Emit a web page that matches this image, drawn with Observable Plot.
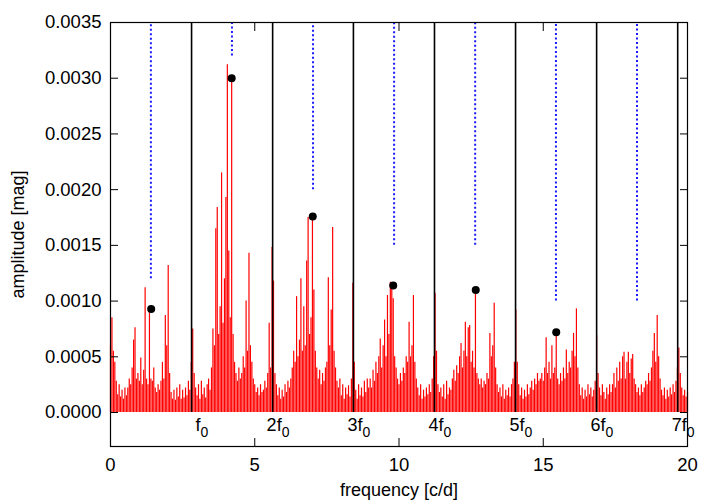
<!DOCTYPE html>
<html>
<head>
<meta charset="utf-8">
<script src="https://cdn.jsdelivr.net/npm/d3@7"></script>
<script src="https://cdn.jsdelivr.net/npm/@observablehq/plot@0.6"></script>
<style>
  html, body { margin: 0; padding: 0; background: #fff; }
  #chart { width: 720px; height: 504px; }
</style>
</head>
<body>
<div id="chart"></div>
<script>
// Amplitude spectrum, units of 1e-5 mag, sampled every 0.05 c/d
const freqStart = 0;
const freqStep = 0.05;
const amp00to05 = [
  60,85,55,45,28,16,25,14,20,12,22,15,22,30,25,40,65,76,30,35,
  28,49,25,38,112,30,25,92,30,28,40,22,18,25,20,28,45,30,87,60,
  132,35,18,12,20,11,22,14,25,12,20,13,22,15,28,20,45,75,35,22,
  15,25,12,28,16,22,13,25,30,20,40,75,60,165,184,70,95,215,80,120,
  193,312,145,85,300,70,45,35,28,40,30,35,50,40,100,55,143,60,45,30
];
const amp05to10 = [
  25,18,22,15,25,18,20,28,22,35,80,40,148,118,35,25,15,22,12,20,
  14,25,18,28,22,30,40,55,45,104,50,65,120,55,95,60,136,175,70,85,
  176,110,55,40,30,38,25,35,28,40,45,121,60,92,166,55,40,28,22,30,
  15,25,12,22,16,24,14,30,116,45,20,12,25,15,22,14,28,18,30,22,
  30,22,38,28,45,35,50,66,40,60,83,50,105,70,117,114,102,50,40,30
];
const amp10to15 = [
  25,35,28,40,35,50,45,81,50,60,105,45,30,22,15,25,12,20,14,22,
  16,25,18,30,50,107,55,25,18,22,14,25,12,28,16,22,20,30,38,28,
  42,35,50,62,40,55,81,50,76,78,45,55,40,110,35,30,25,30,22,28,
  25,35,30,71,50,60,98,40,25,18,22,14,25,12,20,15,22,14,25,30,
  45,92,45,25,15,22,12,20,14,25,16,22,28,20,30,25,35,28,30,35
];
const amp15to20 = [
  28,40,67,35,45,30,60,35,40,72,30,25,35,28,40,30,56,35,45,40,
  55,71,50,93,40,25,15,22,12,20,14,25,16,22,14,20,28,69,35,22,
  15,25,18,12,22,16,25,18,25,35,22,40,28,45,30,50,54,30,45,54,
  35,48,52,30,25,18,22,15,25,18,22,28,25,35,28,40,55,71,45,87,
  50,30,20,15,22,12,20,14,22,16,25,18,28,40,58,35,22,15,20,14,18
];

// Harmonics of f0
const harmonicFreq = [2.81, 5.62, 8.42, 11.23, 14.04, 16.85, 19.66];
const harmonicNum = ["f", "2f", "3f", "4f", "5f", "6f", "7f"];
const harmonicSub = ["0", "0", "0", "0", "0", "0", "0"];
const harmonicLow = 0, harmonicTop = 0.0035;

// Half-integer harmonics (blue dotted markers)
const halfFreq = [1.40, 4.21, 7.02, 9.83, 12.64, 15.44, 18.25];
const halfLow = [0.0012, 0.0032, 0.0020, 0.0015, 0.0015, 0.0010, 0.0010];
const halfTop = 0.0035;

// Detected peaks (black dots)
const peakFreq = [1.41, 4.20, 7.01, 9.80, 12.66, 15.45];
const peakAmp = [0.00093, 0.00300, 0.00176, 0.00114, 0.00110, 0.00072];

const xTicks = [0, 5, 10, 15, 20];
const yTicks = [0, 0.0005, 0.0010, 0.0015, 0.0020, 0.0025, 0.0030, 0.0035];

// ---- build tables ----
const ampAll = [...amp00to05, ...amp05to10, ...amp10to15, ...amp15to20];
const spectrum = ampAll.map((a, i) => ({ f: freqStart + i * freqStep, a: a * 1e-5 }));
const harmonics = harmonicFreq.map((f, i) => ({ f, num: harmonicNum[i], sub: harmonicSub[i], lo: harmonicLow, hi: harmonicTop }));
const halves = halfFreq.map((f, i) => ({ f, lo: halfLow[i], hi: halfTop }));
const peaks = peakFreq.map((f, i) => ({ f, a: peakAmp[i] }));

const yMin = -0.000305, yMax = 0.0035;
const FONT = "'Liberation Sans', Arial, Helvetica, sans-serif";

const chart = Plot.plot({
  width: 720,
  height: 504,
  marginLeft: 110,
  marginRight: 33,
  marginTop: 22,
  marginBottom: 58,
  style: { fontFamily: FONT, fontSize: "18.5px", color: "#000", background: "#fff", overflow: "visible" },
  x: { domain: [0, 20] },
  y: { domain: [yMin, yMax] },
  marks: [
    Plot.ruleX(spectrum, { x: "f", y1: 0, y2: "a", stroke: "#ff0000", strokeWidth: 1.2 }),
    Plot.ruleX(harmonics, { x: "f", y1: "lo", y2: "hi", stroke: "#000", strokeWidth: 1.6 }),
    Plot.ruleX(halves, { x: "f", y1: "lo", y2: "hi", stroke: "#1a1aff", strokeWidth: 2, strokeDasharray: "2,2.5" }),
    Plot.dot(peaks, { x: "f", y: "a", r: 4, fill: "#000", stroke: "none" }),
    Plot.text(harmonics, { x: "f", text: "num", frameAnchor: "bottom", dx: 9, dy: -16, textAnchor: "end", fontSize: 18, fill: "#000" }),
    Plot.text(harmonics, { x: "f", text: "sub", frameAnchor: "bottom", dx: 9, dy: -10, textAnchor: "start", fontSize: 14, fill: "#000" }),
    Plot.axisX({ anchor: "bottom", ticks: xTicks, tickSize: -8, tickPadding: 19, tickFormat: d3.format("d"), label: null }),
    Plot.axisX({ anchor: "top", ticks: xTicks, tickSize: -8, text: null, label: null }),
    Plot.axisY({ anchor: "left", ticks: yTicks, tickSize: -8, tickPadding: 17, tickFormat: d3.format(".4f"), label: null }),
    Plot.axisY({ anchor: "right", ticks: yTicks, tickSize: -8, text: null, label: null }),
    Plot.text(["frequency [c/d]"], { frameAnchor: "bottom", dy: 44, lineAnchor: "middle", textAnchor: "middle", fontSize: 18, fill: "#000" }),
    Plot.text(["amplitude [mag]"], { frameAnchor: "left", dx: -92, rotate: -90, lineAnchor: "middle", textAnchor: "middle", fontSize: 18, fill: "#000" }),
    Plot.frame({ stroke: "#000", strokeWidth: 1.2 })
  ]
});
document.getElementById("chart").appendChild(chart);
</script>
</body>
</html>
